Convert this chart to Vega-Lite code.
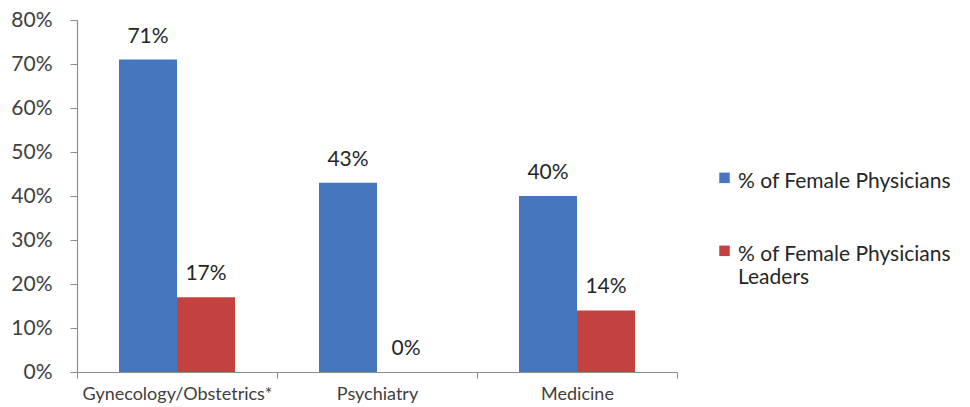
{
  "$schema": "https://vega.github.io/schema/vega-lite/v6.json",
  "width": 600,
  "height": 352,
  "autosize": {"type": "none"},
  "padding": {"left": 77, "top": 20, "right": 293, "bottom": 35},
  "background": "white",
  "config": {
    "view": {"stroke": null},
    "font": "Lato",
    "axis": {"labelFont": "Lato", "labelColor": "#404040", "domainColor": "#8c8c8c", "tickColor": "#8c8c8c", "grid": false},
    "legend": {"labelFont": "Lato"}
  },
  "data": {
    "values": [
      {"specialty": "Gynecology/Obstetrics*", "series": "% of Female Physicians", "pct": 0.71},
      {"specialty": "Gynecology/Obstetrics*", "series": "% of Female Physicians Leaders", "pct": 0.17},
      {"specialty": "Psychiatry", "series": "% of Female Physicians", "pct": 0.43},
      {"specialty": "Psychiatry", "series": "% of Female Physicians Leaders", "pct": 0.0},
      {"specialty": "Medicine", "series": "% of Female Physicians", "pct": 0.40},
      {"specialty": "Medicine", "series": "% of Female Physicians Leaders", "pct": 0.14}
    ]
  },
  "encoding": {
    "x": {
      "field": "specialty",
      "type": "nominal",
      "sort": ["Gynecology/Obstetrics*", "Psychiatry", "Medicine"],
      "scale": {"paddingInner": 0, "paddingOuter": 0},
      "axis": {
        "title": null,
        "labelAngle": 0,
        "labelFontSize": 18,
        "labelLimit": 300,
        "labelPadding": 7,
        "tickBand": "extent",
        "tickSize": 6,
        "domainWidth": 1.2
      }
    },
    "xOffset": {
      "field": "series",
      "type": "nominal",
      "scale": {"paddingInner": 0, "paddingOuter": 0.724}
    },
    "y": {
      "field": "pct",
      "type": "quantitative",
      "scale": {"domain": [0, 0.8], "nice": false},
      "axis": {
        "title": null,
        "format": ".0%",
        "values": [0, 0.1, 0.2, 0.3, 0.4, 0.5, 0.6, 0.7, 0.8],
        "labelFontSize": 21,
        "labelPadding": 18,
        "tickSize": 7,
        "domainWidth": 1.2
      }
    }
  },
  "layer": [
    {
      "mark": {"type": "bar"},
      "encoding": {
        "color": {
          "field": "series",
          "type": "nominal",
          "scale": {
            "domain": ["% of Female Physicians", "% of Female Physicians Leaders"],
            "range": ["#4677BE", "#C3423F"]
          },
          "legend": {
            "title": null,
            "orient": "none",
            "legendX": 637,
            "legendY": 140,
            "symbolType": "M-1,0.4H1V2.4H-1Z",
            "symbolSize": 110,
            "symbolStrokeWidth": 0,
            "labelFontSize": 21,
            "labelColor": "#262626",
            "labelLimit": 300,
            "rowPadding": 41,
            "labelOffset": 3,
            "labelBaseline": "top",
            "labelExpr": "datum.label == '% of Female Physicians Leaders' ? ['% of Female Physicians', 'Leaders'] : datum.label"
          }
        }
      }
    },
    {
      "mark": {"type": "text", "baseline": "bottom", "dy": -13, "fontSize": 21, "color": "#262626"},
      "encoding": {
        "text": {"field": "pct", "type": "quantitative", "format": ".0%"}
      }
    }
  ]
}
